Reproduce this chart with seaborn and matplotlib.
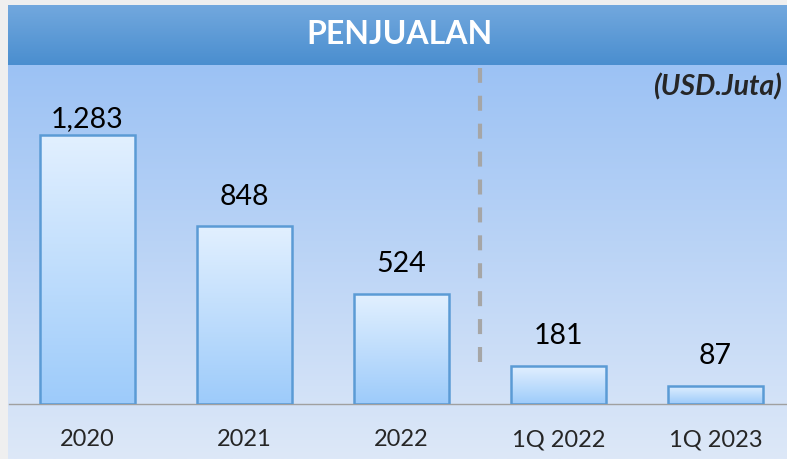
import numpy as np
import pandas as pd
import matplotlib.pyplot as plt
import seaborn as sns
from matplotlib.colors import LinearSegmentedColormap

# chart data
periods = ["2020", "2021", "2022", "1Q 2022", "1Q 2023"]
sales = [1283, 848, 524, 181, 87]
value_labels = ["1,283", "848", "524", "181", "87"]
title = "PENJUALAN"
unit_label = "(USD.Juta)"

sns.set_style("white")
plt.rcParams['font.family'] = ['Lato', 'DejaVu Sans']

W, H = 787, 459
fig = plt.figure(figsize=(W / 100, H / 100), dpi=100)
fig.patch.set_facecolor('#EFEFEF')

grad = np.linspace(0, 1, 256).reshape(-1, 1)

# background gradient below the title band
bg = fig.add_axes([8 / W, 0, 1 - 8 / W, (H - 65) / H])
bg.imshow(grad, aspect='auto', extent=[0, 1, 0, 1],
          cmap=LinearSegmentedColormap.from_list('bg', ['#9CC2F4', '#DDE8F8']))
bg.axis('off')

# title band
band = fig.add_axes([8 / W, (H - 65) / H, 1 - 8 / W, 60 / H])
band.imshow(grad, aspect='auto', extent=[0, 1, 0, 1],
            cmap=LinearSegmentedColormap.from_list('band', ['#72A8DE', '#4A8ECF']))
band.axis('off')
band.text(0.503, 0.5, title, color='white', fontsize=23, fontweight='bold',
          ha='center', va='center', transform=band.transAxes)

# main chart
ax = fig.add_axes([9 / W, (H - 404) / H, 785 / W, 339 / H])
ax.patch.set_alpha(0)
df = pd.DataFrame({"period": periods, "sales": sales})
sns.barplot(data=df, x="period", y="sales", width=0.61, ax=ax,
            facecolor='none', edgecolor='#5B9BD5', linewidth=1.8, zorder=3)

bar_cmap = LinearSegmentedColormap.from_list('bar', ['#E2F0FF', '#9DCBFA'])
for p in ax.patches:
    x0, y0 = p.get_x(), p.get_y()
    w, h = p.get_width(), p.get_height()
    im = ax.imshow(grad, aspect='auto', cmap=bar_cmap,
                   extent=[x0, x0 + w, y0, y0 + h], zorder=2)
    im.set_clip_path(p)

ax.set_xlim(-0.5, 4.5)
ax.set_ylim(0, 1617)

# value labels
for i, (v, lab) in enumerate(zip(sales, value_labels)):
    off = 2 if i == 0 else 12
    ax.annotate(lab, (i, v), xytext=(0, off), textcoords='offset points',
                ha='center', va='bottom', fontsize=20.5, color='black')

# separator between yearly and quarterly figures
ax.axvline(2.5, ymin=(404 - 362) / 339, ymax=(404 - 68) / 339,
           color='#A6A6A6', lw=3, dashes=(3.6, 3.1), zorder=1)

ax.text(0.985, 0.935, unit_label, transform=ax.transAxes, ha='right', va='center',
        fontsize=20.5, fontweight='bold', fontstyle='italic')

# axes styling
for s in ['top', 'right', 'left']:
    ax.spines[s].set_visible(False)
ax.spines['bottom'].set_color('#A0A0A0')
ax.spines['bottom'].set_linewidth(1)
ax.set_yticks([])
ax.set_xticks(np.arange(-0.5, 5, 1))
ax.set_xticklabels([])
ax.tick_params(axis='x', which='major', direction='out', length=5, width=1, color='#A0A0A0')
ax.set_xticks(range(len(periods)), minor=True)
ax.set_xticklabels(periods, minor=True)
ax.tick_params(axis='x', which='minor', length=0, pad=18, labelsize=17)
ax.set_xlabel("")
ax.set_ylabel("")

fig.savefig("out.png", dpi=100)
